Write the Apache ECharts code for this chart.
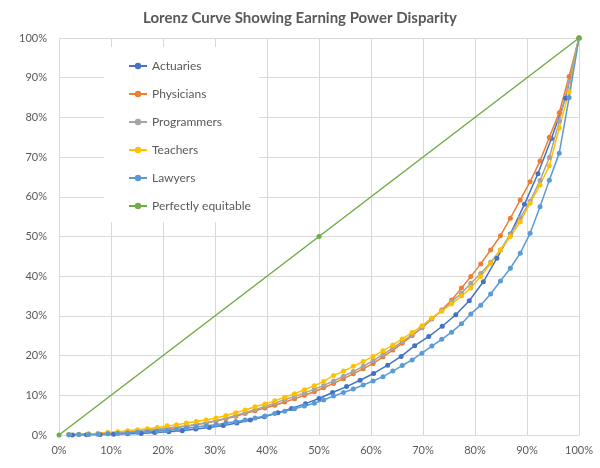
<!DOCTYPE html>
<html>
<head>
<meta charset="utf-8">
<script src="https://cdn.jsdelivr.net/npm/echarts@6/dist/echarts.min.js"></script>
<style>
html,body{margin:0;padding:0;background:#fff;}
#chart{width:600px;height:468px;}
</style>
</head>
<body>
<div id="chart"></div>
<script>
// Cumulative share of population (%) for the 53-point series
const xPop53 = [1.9,3.8,5.7,7.5,9.4,11.3,13.2,15.1,17.0,18.9,20.8,22.6,24.5,26.4,28.3,30.2,32.1,34.0,35.8,37.7,39.6,41.5,43.4,45.3,47.2,49.1,50.9,52.8,54.7,56.6,58.5,60.4,62.3,64.2,66.0,67.9,69.8,71.7,73.6,75.5,77.4,79.2,81.1,83.0,84.9,86.8,88.7,90.6,92.5,94.3,96.2,98.1,100];
// Cumulative share of population (%) for Actuaries (38 points)
const xPopActuaries = [2.6,5.3,7.9,10.5,13.2,15.8,18.4,21.1,23.7,26.3,28.9,31.6,34.2,36.8,39.5,42.1,44.7,47.4,50.0,52.6,55.3,57.9,60.5,63.2,65.8,68.4,71.1,73.7,76.3,78.9,81.6,84.2,86.8,89.5,92.1,94.7,97.4,100];

const yActuaries = [0.02,0.05,0.1,0.2,0.3,0.4,0.6,0.8,1.1,1.5,1.9,2.4,3.0,3.8,4.6,5.6,6.7,7.9,9.2,10.7,12.2,13.8,15.5,17.6,19.8,22.5,24.8,27.4,30.3,33.8,38.6,44.5,50.6,58.1,65.8,74.7,84.8,100];
const yPhysicians = [0.05,0.1,0.2,0.3,0.4,0.6,0.8,1.0,1.2,1.4,1.6,1.9,2.2,2.6,3.0,3.5,4.1,4.7,5.4,6.1,6.8,7.5,8.3,9.1,10.0,10.9,11.9,13.0,14.2,15.4,16.7,18.0,19.7,21.4,23.1,25.0,27.0,29.2,31.5,34.0,37.0,39.9,43.1,46.6,50.2,54.6,59.2,63.8,69.0,75.0,81.2,90.3,100];
const yProgrammers = [0.05,0.1,0.2,0.3,0.5,0.6,0.8,1.0,1.3,1.5,1.8,2.0,2.3,2.7,3.1,3.6,4.2,4.9,5.6,6.4,7.2,8.0,8.9,9.7,10.6,11.5,12.5,13.6,14.8,16.0,17.3,18.7,20.3,21.9,23.5,25.2,27.0,29.3,31.3,33.6,35.7,38.2,40.7,43.5,46.6,50.5,54.7,58.9,64.1,69.9,79.0,89.0,100];
const yTeachers = [0.1,0.2,0.3,0.4,0.6,0.8,1.1,1.3,1.6,1.9,2.3,2.6,3.0,3.4,3.8,4.3,4.9,5.6,6.3,7.1,7.8,8.6,9.5,10.4,11.4,12.4,13.5,15.0,16.1,17.3,18.5,19.8,21.2,22.7,24.2,25.8,27.5,29.5,31.2,33.0,35.0,37.0,39.9,43.2,46.6,50.0,53.7,58.4,63.0,67.8,77.3,86.5,100];
const yLawyers = [0.05,0.1,0.15,0.2,0.3,0.4,0.5,0.7,0.8,1.0,1.2,1.4,1.7,2.0,2.3,2.6,3.0,3.4,3.8,4.3,4.8,5.4,6.0,6.6,7.3,8.0,8.8,9.8,10.7,11.6,12.6,13.6,14.7,16.1,17.5,18.9,20.6,22.4,24.1,25.9,28.0,30.5,32.7,35.5,38.8,42.0,45.8,50.8,57.5,64.2,71.0,85.0,100];
const xEquitable = [0,50,100];
const yEquitable = [0,50,100];

const seriesNames = ['Actuaries','Physicians','Programmers','Teachers','Lawyers','Perfectly equitable'];
const seriesColors = ['#4472C4','#ED7D31','#A5A5A5','#FFC000','#5B9BD5','#70AD47'];

function zip(xs, ys){ return xs.map((x,i)=>[x, ys[i]]); }
const dataSets = [
  zip(xPopActuaries, yActuaries),
  zip(xPop53, yPhysicians),
  zip(xPop53, yProgrammers),
  zip(xPop53, yTeachers),
  zip(xPop53, yLawyers),
  zip(xEquitable, yEquitable)
];

const txt = '#595959';
const chart = echarts.init(document.getElementById('chart'), null, {renderer:'canvas'});
chart.setOption({
  animation:false,
  backgroundColor:'#fff',
  title:{
    text:'Lorenz Curve Showing Earning Power Disparity',
    left:'center', top:6,
    textStyle:{fontFamily:'Lato', fontSize:15, fontWeight:'bold', color:txt}
  },
  legend:{
    orient:'vertical',
    left:104, top:47,
    padding:[13,8,10,24],
    itemGap:16,
    itemWidth:18, itemHeight:8,
    backgroundColor:'#fff',
    data:seriesNames,
    textStyle:{fontFamily:'Lato', fontSize:12, color:txt}
  },
  grid:{left:59, right:21, top:38, bottom:33},
  xAxis:{
    type:'value', min:0, max:100, interval:10,
    axisLabel:{formatter:v=>v+'%', fontFamily:'Lato', fontSize:11, color:txt, margin:10},
    axisLine:{show:true, lineStyle:{color:'#d9d9d9'}},
    axisTick:{show:false},
    splitLine:{show:true, lineStyle:{color:'#d9d9d9'}}
  },
  yAxis:{
    type:'value', min:0, max:100, interval:10,
    axisLabel:{formatter:v=>v+'%', fontFamily:'Lato', fontSize:11, color:txt, margin:12},
    axisLine:{show:false},
    axisTick:{show:false},
    splitLine:{show:true, lineStyle:{color:'#d9d9d9'}}
  },
  series: seriesNames.map((n,i)=>({
    name:n, type:'line', data:dataSets[i],
    symbol:'circle', symbolSize:5, showSymbol:true,
    lineStyle:{width:1.5, color:seriesColors[i]},
    itemStyle:{color:seriesColors[i]},
    smooth:false
  }))
});
</script>
</body>
</html>
